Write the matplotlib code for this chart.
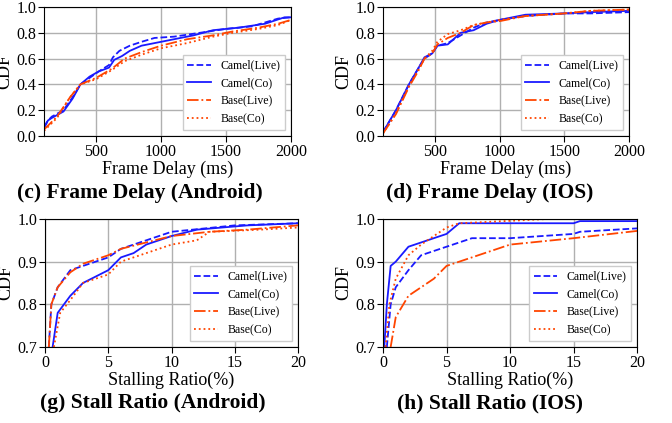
import matplotlib.pyplot as plt

plt.rcParams['font.family'] = ['Liberation Serif', 'DejaVu Serif']

BLUE = '#1a1aff'
ORANGE = '#ff4500'
labels = ['Camel(Live)', 'Camel(Co)', 'Base(Live)', 'Base(Co)']
styles = [('--', BLUE), ('-', BLUE), ('-.', ORANGE), (':', ORANGE)]

# (c) Frame delay, Android
c_cl_x = [100, 130, 160, 250, 320, 380, 450, 520, 600, 630, 680, 760, 850, 950, 1100, 1300, 1500, 1700, 1800, 1900, 2000]
c_cl_y = [0.07, 0.12, 0.15, 0.20, 0.30, 0.40, 0.45, 0.50, 0.55, 0.61, 0.66, 0.70, 0.73, 0.76, 0.77, 0.80, 0.83, 0.85, 0.88, 0.91, 0.92]
c_cc_x = [100, 130, 160, 250, 320, 380, 450, 520, 600, 640, 700, 760, 850, 950, 1100, 1250, 1400, 1600, 1800, 1950, 2000]
c_cc_y = [0.06, 0.12, 0.14, 0.19, 0.29, 0.40, 0.46, 0.50, 0.53, 0.59, 0.62, 0.66, 0.70, 0.72, 0.75, 0.78, 0.82, 0.84, 0.87, 0.92, 0.92]
c_bl_x = [100, 200, 300, 380, 500, 620, 720, 850, 1000, 1200, 1400, 1550, 1750, 1900, 2000]
c_bl_y = [0.05, 0.15, 0.30, 0.40, 0.45, 0.52, 0.60, 0.65, 0.70, 0.75, 0.78, 0.81, 0.84, 0.87, 0.90]
c_bc_x = [100, 200, 300, 380, 500, 620, 720, 850, 1000, 1200, 1400, 1550, 1750, 1900, 2000]
c_bc_y = [0.04, 0.14, 0.30, 0.40, 0.44, 0.51, 0.58, 0.63, 0.68, 0.72, 0.77, 0.80, 0.83, 0.86, 0.90]

# (d) Frame delay, IOS
d_cl_x = [100, 200, 300, 370, 420, 480, 520, 600, 700, 800, 900, 1000, 1200, 1500, 1700, 2000]
d_cl_y = [0.03, 0.20, 0.40, 0.52, 0.60, 0.64, 0.70, 0.72, 0.78, 0.84, 0.88, 0.90, 0.93, 0.95, 0.95, 0.96]
d_cc_x = [100, 200, 300, 370, 420, 480, 520, 600, 700, 800, 900, 1000, 1200, 1500, 1700, 2000]
d_cc_y = [0.03, 0.20, 0.40, 0.52, 0.61, 0.64, 0.70, 0.71, 0.80, 0.82, 0.87, 0.90, 0.94, 0.95, 0.96, 0.97]
d_bl_x = [100, 200, 300, 370, 420, 480, 520, 600, 700, 800, 900, 1000, 1200, 1500, 1700, 2000]
d_bl_y = [0.02, 0.17, 0.38, 0.50, 0.60, 0.64, 0.71, 0.76, 0.80, 0.86, 0.88, 0.89, 0.93, 0.95, 0.97, 0.98]
d_bc_x = [100, 200, 300, 370, 420, 480, 520, 600, 700, 800, 900, 1000, 1200, 1500, 1700, 2000]
d_bc_y = [0.02, 0.18, 0.39, 0.51, 0.60, 0.66, 0.73, 0.79, 0.82, 0.86, 0.88, 0.90, 0.93, 0.95, 0.97, 0.98]

# (g) Stall ratio, Android
g_cl_x = [0.3, 0.5, 1, 2, 3, 5, 6, 8, 9, 10, 15, 20]
g_cl_y = [0.70, 0.80, 0.84, 0.88, 0.89, 0.91, 0.93, 0.95, 0.96, 0.97, 0.985, 0.99]
g_cc_x = [0.6, 1, 2, 3, 4, 5, 6, 7, 8, 10, 12, 16, 20]
g_cc_y = [0.70, 0.78, 0.82, 0.85, 0.865, 0.88, 0.91, 0.92, 0.94, 0.96, 0.975, 0.985, 0.99]
g_bl_x = [0.3, 0.5, 1, 2, 3, 5, 6, 8, 10, 13, 16, 20]
g_bl_y = [0.70, 0.80, 0.84, 0.875, 0.895, 0.915, 0.93, 0.945, 0.96, 0.97, 0.975, 0.985]
g_bc_x = [0.7, 1.2, 2, 3, 5, 6, 8, 10, 12, 13, 17, 20]
g_bc_y = [0.70, 0.78, 0.81, 0.85, 0.87, 0.90, 0.92, 0.94, 0.95, 0.97, 0.975, 0.98]

# (h) Stall ratio, IOS
h_cl_x = [0.3, 0.6, 1, 2, 3, 4, 5, 6, 7, 10, 15, 15.5, 20]
h_cl_y = [0.70, 0.80, 0.84, 0.88, 0.915, 0.925, 0.935, 0.945, 0.955, 0.955, 0.965, 0.97, 0.978]
h_cc_x = [0.1, 0.3, 0.6, 1, 2, 3, 4, 5, 6, 15, 15.5, 20]
h_cc_y = [0.70, 0.80, 0.89, 0.90, 0.935, 0.945, 0.955, 0.965, 0.99, 0.99, 0.995, 0.995]
h_bl_x = [0.6, 1, 2, 3, 4, 5, 7, 10, 15, 20]
h_bl_y = [0.70, 0.77, 0.82, 0.84, 0.86, 0.89, 0.91, 0.94, 0.955, 0.972]
h_bc_x = [0.2, 0.5, 1, 2, 3, 4, 5, 6, 13]
h_bc_y = [0.70, 0.80, 0.86, 0.915, 0.94, 0.96, 0.98, 0.99, 1.0]

panels = [
    ([0.0655, 0.6785, 0.3676, 0.305], [(c_cl_x, c_cl_y), (c_cc_x, c_cc_y), (c_bl_x, c_bl_y), (c_bc_x, c_bc_y)],
     (100, 2000), (0, 1), [500, 1000, 1500, 2000], [0.0, 0.2, 0.4, 0.6, 0.8, 1.0], 'Frame Delay (ms)',
     '(c) Frame Delay (Android)', (0.208, 0.543)),
    ([0.570, 0.6785, 0.366, 0.305], [(d_cl_x, d_cl_y), (d_cc_x, d_cc_y), (d_bl_x, d_bl_y), (d_bc_x, d_bc_y)],
     (100, 2000), (0, 1), [500, 1000, 1500, 2000], [0.0, 0.2, 0.4, 0.6, 0.8, 1.0], 'Frame Delay (ms)',
     '(d) Frame Delay (IOS)', (0.729, 0.543)),
    ([0.067, 0.1797, 0.3765, 0.3026], [(g_cl_x, g_cl_y), (g_cc_x, g_cc_y), (g_bl_x, g_bl_y), (g_bc_x, g_bc_y)],
     (0, 20), (0.7, 1.0), [0, 5, 10, 15, 20], [0.7, 0.8, 0.9, 1.0], 'Stalling Ratio(%)',
     '(g) Stall Ratio (Android)', (0.228, 0.047)),
    ([0.570, 0.1797, 0.378, 0.3026], [(h_cl_x, h_cl_y), (h_cc_x, h_cc_y), (h_bl_x, h_bl_y), (h_bc_x, h_bc_y)],
     (0, 20), (0.7, 1.0), [0, 5, 10, 15, 20], [0.7, 0.8, 0.9, 1.0], 'Stalling Ratio(%)',
     '(h) Stall Ratio (IOS)', (0.729, 0.047)),
]

fig = plt.figure(figsize=(6.72, 4.23), dpi=100)

for rect, series, xlim, ylim, xt, yt, xlab, cap, cap_pos in panels:
    ax = fig.add_axes(rect)
    for (x, y), (ls, col), lab in zip(series, styles, labels):
        ax.plot(x, y, linestyle=ls, color=col, lw=1.3, label=lab)
    ax.set_xlim(*xlim)
    ax.set_ylim(*ylim)
    ax.set_xticks(xt)
    ax.set_yticks(yt)
    ax.set_yticklabels(['%.1f' % v for v in yt])
    ax.grid(True, color='#b0b0b0', lw=1)
    ax.set_axisbelow(True)
    ax.tick_params(labelsize=11.5, length=4, pad=1.5)
    ax.set_xlabel(xlab, fontsize=13, labelpad=1)
    ax.set_ylabel('CDF', fontsize=13, labelpad=2)
    ax.legend(loc='lower right', fontsize=8.5, framealpha=1, fancybox=False, edgecolor='#cccccc')
    fig.text(cap_pos[0], cap_pos[1], cap, ha='center', va='center', fontsize=15.5, fontweight='bold')

fig.savefig('out.png', dpi=100)
